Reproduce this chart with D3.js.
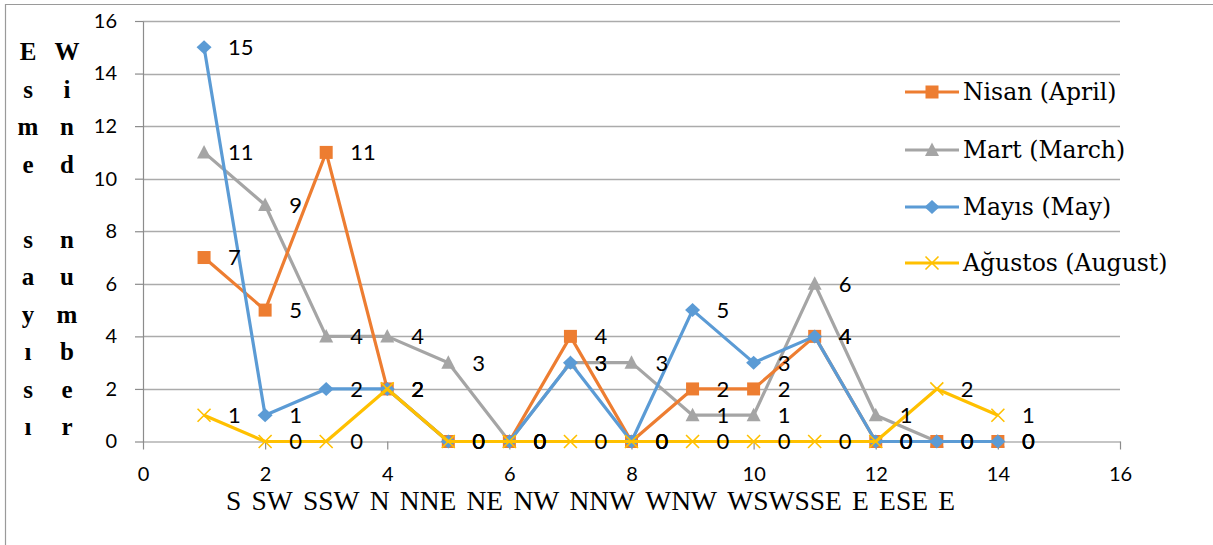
<!DOCTYPE html>
<html><head><meta charset="utf-8">
<script src="https://cdn.jsdelivr.net/npm/d3@7/dist/d3.min.js"></script>
<style>
html,body{margin:0;padding:0;background:#fff;}
svg{display:block;}
</style></head>
<body>
<svg id="chart" width="1213" height="545"></svg>
<script>
// ---- data ----
const xValues = [1,2,3,4,5,6,7,8,9,10,11,12,13,14];
const directions = ["S","SW","SSW","N","NNE","NE","NW","NNW","WNW","WSW","SSE","E","ESE","E"];
const nisan   = [7,5,11,2,0,0,4,0,2,2,4,0,0,0];
const mart    = [11,9,4,4,3,0,3,3,1,1,6,1,0,0];
const mayis   = [15,1,2,2,0,0,3,0,5,3,4,0,0,0];
const agustos = [1,0,0,2,0,0,0,0,0,0,0,0,2,1];
const seriesNames = ["Nisan (April)","Mart (March)","Mayıs (May)","Ağustos (August)"];
const xTicks = [0,2,4,6,8,10,12,14,16];
const yTicks = [0,2,4,6,8,10,12,14,16];
const yTitleTr = "Esme sayısı";
const yTitleEn = "Wind number";

// ---- setup ----
const svg = d3.select("#chart");
const x = d3.scaleLinear().domain([0,16]).range([143,1120]);
const y = d3.scaleLinear().domain([0,16]).range([441.5,21]);
const sansFont = "Lato, 'Open Sans', sans-serif";
const serifFont = "'Liberation Serif', serif";

// frame
svg.append("path").attr("d","M5.5,545 L5.5,4.5 L1213,4.5").attr("fill","none").attr("stroke","#9a9a9a").attr("stroke-width",1.2);

// gridlines
svg.append("g").selectAll("line").data(yTicks.filter(d=>d>0)).join("line")
  .attr("x1",x(0)).attr("x2",x(16))
  .attr("y1",d=>Math.round(y(d))+0.5).attr("y2",d=>Math.round(y(d))+0.5)
  .attr("stroke","#ababab").attr("stroke-width",1.3);

// y axis
const yAxis = d3.axisLeft(y).tickValues(yTicks).tickSize(8).tickPadding(18).tickSizeOuter(0);
const gy = svg.append("g").attr("transform",`translate(${x(0)},0)`).call(yAxis);
gy.select(".domain").attr("stroke","#8c8c8c").attr("stroke-width",1.2);
gy.selectAll(".tick line").attr("stroke","#8c8c8c").attr("stroke-width",1.2);
gy.selectAll(".tick text").attr("font-family",sansFont).attr("font-size",20).attr("fill","#000");

// x axis
const xAxis = d3.axisBottom(x).tickValues(xTicks).tickSize(8).tickPadding(17).tickSizeOuter(0);
const gx = svg.append("g").attr("transform",`translate(0,${y(0)})`).call(xAxis);
gx.select(".domain").attr("stroke","#8c8c8c").attr("stroke-width",1.2);
gx.selectAll(".tick line").attr("stroke","#8c8c8c").attr("stroke-width",1.2);
gx.selectAll(".tick text").attr("font-family",sansFont).attr("font-size",20).attr("fill","#000");

// series definitions (draw order)
const series = [
  {name:seriesNames[1], values:mart,    color:"#A5A5A5", marker:"triangle"},
  {name:seriesNames[0], values:nisan,   color:"#ED7D31", marker:"square"},
  {name:seriesNames[2], values:mayis,   color:"#5B9BD5", marker:"diamond"},
  {name:seriesNames[3], values:agustos, color:"#FFC000", marker:"cross"}
];

function drawMarker(g, type, color){
  if(type==="square"){
    g.append("rect").attr("x",-6.5).attr("y",-6.5).attr("width",13).attr("height",13).attr("fill",color);
  } else if(type==="triangle"){
    g.append("path").attr("d","M0,-7.5 L7,6 L-7,6 Z").attr("fill",color);
  } else if(type==="diamond"){
    g.append("path").attr("d","M0,-7 L7.5,0 L0,7 L-7.5,0 Z").attr("fill",color);
  } else {
    g.append("path").attr("d","M-6.5,-6.5 L6.5,6.5 M-6.5,6.5 L6.5,-6.5").attr("stroke",color).attr("stroke-width",1.6).attr("fill","none");
  }
}

const line = d3.line().x((d,i)=>x(xValues[i])).y(d=>y(d));
const plot = svg.append("g");
series.forEach(s=>{
  const g = plot.append("g");
  g.append("path").datum(s.values).attr("d",line).attr("fill","none")
    .attr("stroke",s.color).attr("stroke-width",3.2).attr("stroke-linejoin","round");
  s.values.forEach((v,i)=>{
    const m = g.append("g").attr("transform",`translate(${x(xValues[i])},${y(v)})`);
    drawMarker(m, s.marker, s.color);
  });
});

// data labels
const labels = svg.append("g");
series.forEach(s=>{
  labels.selectAll(null).data(s.values).join("text")
    .attr("x",(d,i)=>x(xValues[i])+24)
    .attr("y",d=>y(d))
    .attr("dy","0.36em")
    .attr("font-family",sansFont).attr("font-size",22).attr("fill","#000")
    .text(d=>d);
});

// legend
const legendOrder = [
  {name:seriesNames[0], color:"#ED7D31", marker:"square"},
  {name:seriesNames[1], color:"#A5A5A5", marker:"triangle"},
  {name:seriesNames[2], color:"#5B9BD5", marker:"diamond"},
  {name:seriesNames[3], color:"#FFC000", marker:"cross"}
];
const legendY = [92,150,207,263];
legendOrder.forEach((s,i)=>{
  const g = svg.append("g").attr("transform",`translate(905,${legendY[i]})`);
  g.append("line").attr("x1",0).attr("x2",54).attr("y1",0).attr("y2",0).attr("stroke",s.color).attr("stroke-width",3.2);
  const m = g.append("g").attr("transform","translate(27,0)");
  drawMarker(m, s.marker, s.color);
  g.append("text").attr("x",58).attr("y",0).attr("dy","0.33em")
    .attr("font-family","'DejaVu Serif', serif").attr("font-size",23.5).attr("fill","#000").text(s.name);
});

// direction labels under x axis
const dirG = svg.append("g");
const dirTexts = dirG.selectAll("text").data(directions).join("text")
  .attr("y",510).attr("font-family",serifFont).attr("font-size",27.5).attr("fill","#000")
  .text(d=>d);
const widths = [];
dirTexts.each(function(){ widths.push(this.getComputedTextLength()); });
const startX = 226, endX = 955;
const sumW = d3.sum(widths);
const nGaps = directions.length - 2; // WSW and SSE touch
const gap = (endX - startX - sumW) / nGaps;
let cx = startX;
dirTexts.each(function(d,i){
  if(i>0) cx += (i===10 ? 0 : gap);
  d3.select(this).attr("x",cx);
  cx += widths[i];
});

// y axis title: vertical stacked letters
[[yTitleTr,28],[yTitleEn,67]].forEach(([str,cxp])=>{
  svg.append("g").selectAll("text").data(Array.from(str)).join("text")
    .attr("x",cxp).attr("y",(d,i)=>60+i*37.5)
    .attr("text-anchor","middle")
    .attr("font-family",serifFont).attr("font-weight","bold").attr("font-size",25).attr("fill","#000")
    .text(d=>d);
});
</script>
</body></html>
